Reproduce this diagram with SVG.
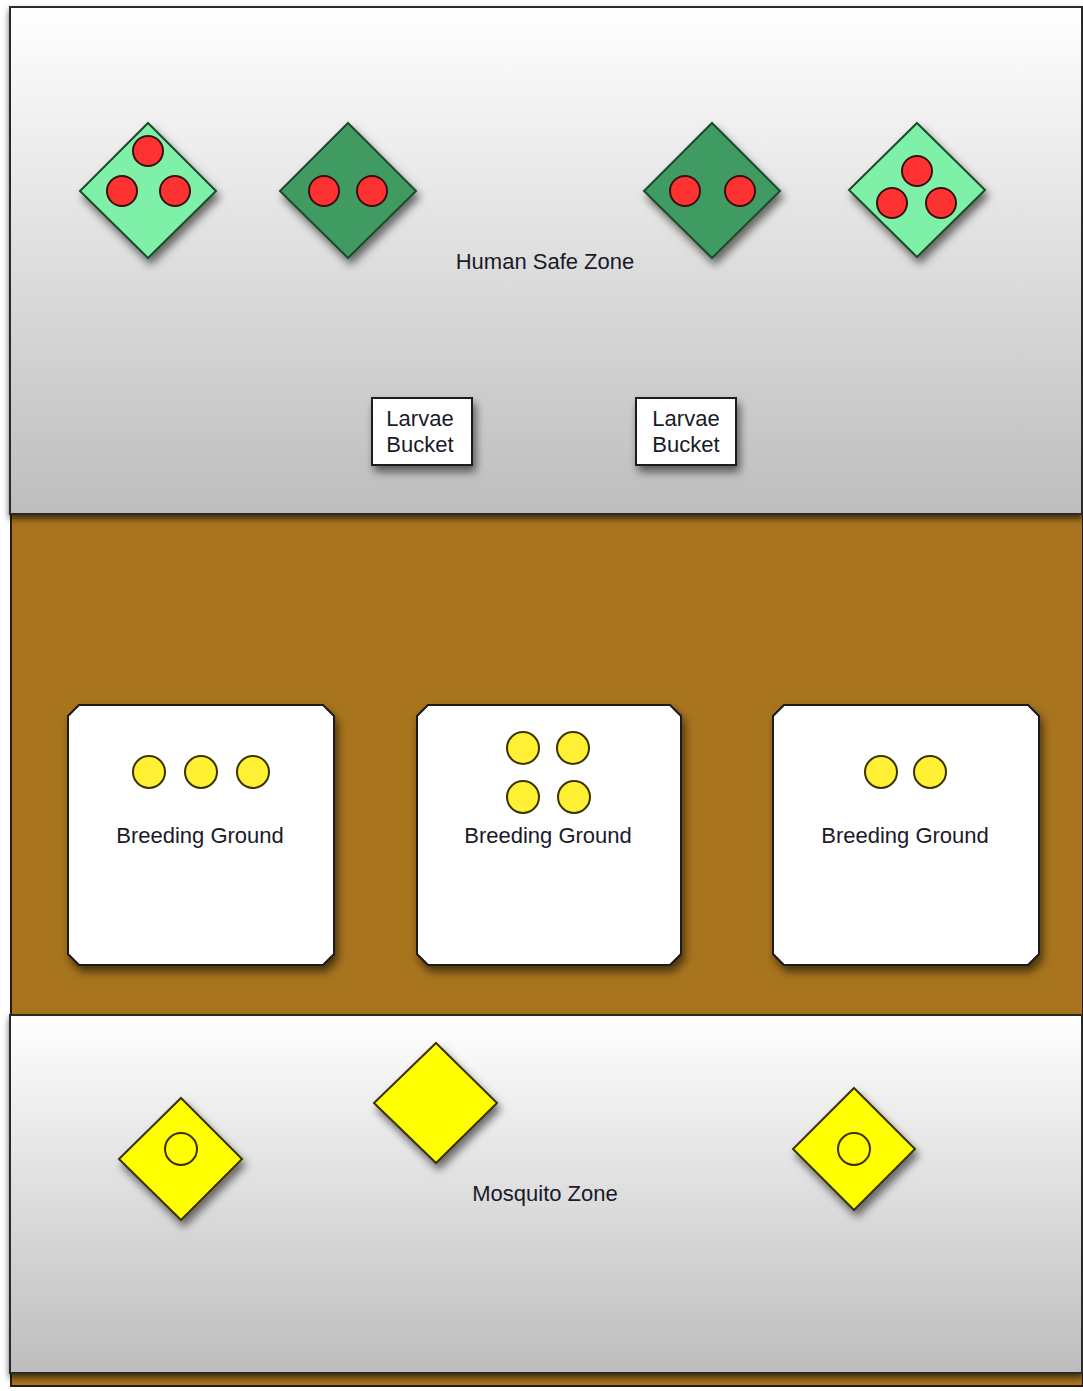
<svg xmlns="http://www.w3.org/2000/svg" width="1083" height="1391" viewBox="0 0 1083 1391">
<defs>
<linearGradient id="zoneGrad" x1="0" y1="0" x2="0" y2="1">
<stop offset="0" stop-color="#ffffff"/>
<stop offset="1" stop-color="#bdbdbd"/>
</linearGradient>
<filter id="shadow" x="-30%" y="-30%" width="160%" height="160%">
<feDropShadow dx="3" dy="6" stdDeviation="4" flood-color="#000" flood-opacity="0.55"/>
</filter>
<filter id="zshadow" x="-5%" y="-5%" width="110%" height="110%">
<feDropShadow dx="0" dy="4" stdDeviation="3" flood-color="#000" flood-opacity="0.6"/>
</filter>
</defs>
<style>
.zone{fill:url(#zoneGrad);stroke:#2a2a2a;stroke-width:2}
.dlight{fill:#7ff0a8;stroke:#1f4a2a;stroke-width:2}
.ddark{fill:#3f9b62;stroke:#1f4a2a;stroke-width:2}
.dyel{fill:#ffff00;stroke:#3a3300;stroke-width:2}
.red{fill:#ff3333;stroke:#3a1010;stroke-width:2}
.yc{fill:#fff033;stroke:#3a3300;stroke-width:2}
.ycl{fill:none;stroke:#3a3300;stroke-width:2}
.box{fill:#ffffff;stroke:#1a1a1a;stroke-width:2}
.lbl{font-family:"Liberation Sans",Arial,sans-serif;font-size:22px;fill:#1a1a2a;text-anchor:middle}
</style>
<rect width="1083" height="1391" fill="#ffffff"/>
<g id="mud-zone">
<rect x="11" y="510" width="1072" height="876" fill="#a8741e" stroke="#2a1a0a" stroke-width="2"/>
</g>
<g id="human-safe-zone">
<rect class="zone" x="10" y="7" width="1072" height="507" filter="url(#zshadow)"/>
<text class="lbl" x="545" y="269">Human Safe Zone</text>
</g>
<g id="mosquito-zone">
<rect class="zone" x="10" y="1015" width="1072" height="358" filter="url(#zshadow)"/>
<text class="lbl" x="545" y="1201">Mosquito Zone</text>
</g>
<g id="human-1" filter="url(#shadow)">
<polygon class="dlight" points="148,123 216,191 148,258 80,191"/>
<circle class="red" cx="148" cy="151" r="15"/>
<circle class="red" cx="122" cy="191" r="15"/>
<circle class="red" cx="175" cy="191" r="15"/>
</g>
<g id="human-2" filter="url(#shadow)">
<polygon class="ddark" points="348,123 416,191 348,258 280,191"/>
<circle class="red" cx="324" cy="191" r="15"/>
<circle class="red" cx="372" cy="191" r="15"/>
</g>
<g id="human-3" filter="url(#shadow)">
<polygon class="ddark" points="712,123 780,191 712,258 644,191"/>
<circle class="red" cx="685" cy="191" r="15"/>
<circle class="red" cx="740" cy="191" r="15"/>
</g>
<g id="human-4" filter="url(#shadow)">
<polygon class="dlight" points="917,123 985,190 917,257 849,190"/>
<circle class="red" cx="917" cy="171" r="15"/>
<circle class="red" cx="892" cy="203" r="15"/>
<circle class="red" cx="941" cy="203" r="15"/>
</g>
<g id="bucket-1">
<rect class="box" x="372" y="398" width="100" height="67" filter="url(#shadow)"/>
<text class="lbl" x="420" y="426">Larvae</text>
<text class="lbl" x="420" y="452">Bucket</text>
</g>
<g id="bucket-2">
<rect class="box" x="636" y="398" width="100" height="67" filter="url(#shadow)"/>
<text class="lbl" x="686" y="426">Larvae</text>
<text class="lbl" x="686" y="452">Bucket</text>
</g>
<g id="breeding-1">
<polygon class="box" points="79,705 323,705 334,716 334,954 323,965 79,965 68,954 68,716" filter="url(#shadow)"/>
<circle class="yc" cx="149" cy="772" r="16"/>
<circle class="yc" cx="201" cy="772" r="16"/>
<circle class="yc" cx="253" cy="772" r="16"/>
<text class="lbl" x="200" y="843">Breeding Ground</text>
</g>
<g id="breeding-2">
<polygon class="box" points="428,705 670,705 681,716 681,954 670,965 428,965 417,954 417,716" filter="url(#shadow)"/>
<circle class="yc" cx="523" cy="748" r="16"/>
<circle class="yc" cx="573" cy="748" r="16"/>
<circle class="yc" cx="523" cy="797" r="16"/>
<circle class="yc" cx="574" cy="797" r="16"/>
<text class="lbl" x="548" y="843">Breeding Ground</text>
</g>
<g id="breeding-3">
<polygon class="box" points="784,705 1028,705 1039,716 1039,954 1028,965 784,965 773,954 773,716" filter="url(#shadow)"/>
<circle class="yc" cx="881" cy="772" r="16"/>
<circle class="yc" cx="930" cy="772" r="16"/>
<text class="lbl" x="905" y="843">Breeding Ground</text>
</g>
<g id="mosquito-1" filter="url(#shadow)">
<polygon class="dyel" points="181,1098 242,1159 181,1220 119,1159"/>
<circle class="ycl" cx="181" cy="1149" r="16"/>
</g>
<g id="mosquito-2" filter="url(#shadow)">
<polygon class="dyel" points="436,1043 497,1103 436,1163 374,1103"/>
</g>
<g id="mosquito-3" filter="url(#shadow)">
<polygon class="dyel" points="854,1088 915,1149 854,1210 793,1149"/>
<circle class="ycl" cx="854" cy="1149" r="16"/>
</g>
<g id="connectors"/>
</svg>
